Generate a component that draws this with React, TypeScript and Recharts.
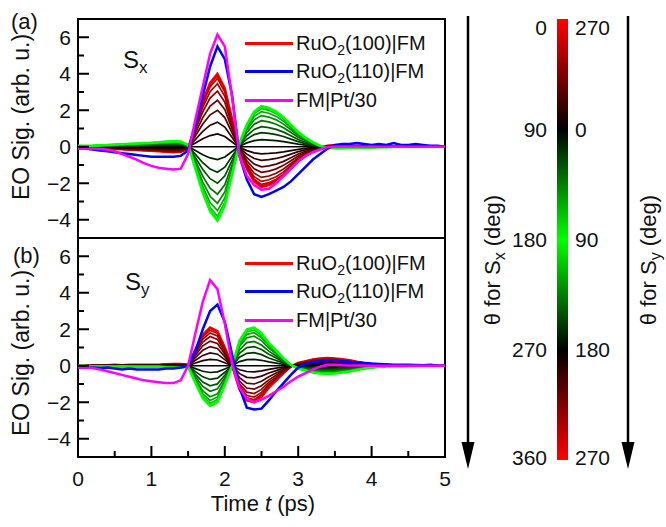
import { LineChart, Line, XAxis, YAxis, Legend, BarChart, Bar, ReferenceArea } from "recharts";

// Time axis (ps) shared by both panels
const TIME = [
  0, 0.1, 0.2, 0.3, 0.4, 0.5, 0.6, 0.7, 0.8, 0.9, 1, 1.1, 1.2, 1.3, 1.4, 1.5, 1.6, 1.7, 1.8, 1.9, 2, 2.1, 2.2, 2.3,
  2.4, 2.5, 2.6, 2.7, 2.8, 2.9, 3, 3.1, 3.2, 3.3, 3.4, 3.5, 3.6, 3.7, 3.8, 3.9, 4, 4.1, 4.2, 4.3, 4.4, 4.5, 4.6, 4.7,
  4.8, 4.9, 5,
];

// theta of the RuO2(100)|FM family, 0..180 (theta and 360-theta overlap)
const ANGLES = [0, 10, 20, 30, 40, 50, 60, 70, 80, 90, 100, 110, 120, 130, 140, 150, 160, 170, 180];

// peak height of each family trace at the main lobe
const SX_PEAKS = [4.0, 3.9, 3.75, 3.45, 3.05, 2.55, 2.0, 1.35, 0.7, 0, -0.7, -1.4, -2.0, -2.6, -3.1, -3.5, -3.8, -3.95, -4.05];
const SY_PEAKS = [2.1, 2.05, 1.95, 1.8, 1.6, 1.35, 1.05, 0.7, 0.35, 0, -0.37, -0.75, -1.1, -1.4, -1.7, -1.9, -2.05, -2.15, -2.2];

// (a) Sx traces
const SX_RED = [
  -0.05, -0.05, -0.06, -0.08, -0.1, -0.12, -0.14, -0.16, -0.18, -0.2, -0.22, -0.25, -0.28, -0.3, -0.28, -0.1, 1.2, 2.5,
  3.5, 4.0, 3.2, 1.5, -0.2, -1.2, -1.9, -2.2, -2.1, -1.9, -1.6, -1.2, -0.8, -0.5, -0.25, -0.05, 0.05, 0.08, 0.08, 0.06,
  0.05, 0.05, 0.04, 0.03, 0.03, 0.02, 0.02, 0.02, 0.01, 0.01, 0.01, 0, 0,
];
const SX_BLUE = [
  -0.1, -0.1, -0.15, -0.2, -0.25, -0.3, -0.35, -0.4, -0.45, -0.5, -0.55, -0.55, -0.55, -0.55, -0.5, -0.2, 1.2, 2.8, 4.4,
  5.5, 4.8, 2.8, -0.5, -1.8, -2.6, -2.75, -2.6, -2.4, -2.2, -1.9, -1.5, -1.1, -0.7, -0.4, -0.1, 0.1, 0.15, 0.15, 0.2,
  0.15, 0.1, 0.15, 0.1, 0.2, 0.1, 0.1, 0.15, 0.1, 0.05, 0.05, 0,
];
const SX_MAG = [
  -0.1, -0.1, -0.1, -0.12, -0.15, -0.25, -0.4, -0.55, -0.7, -0.9, -1.05, -1.15, -1.2, -1.25, -1.2, -0.4, 1.5, 3.3, 5.1,
  6.15, 5.5, 2.7, -0.5, -1.6, -2.1, -2.35, -2.3, -2.0, -1.6, -1.2, -0.8, -0.5, -0.3, -0.15, -0.02, 0, 0.02, 0.02, 0.02,
  0, 0.02, 0, 0, 0, 0.02, 0, 0, 0, 0, 0, 0,
];

// (b) Sy traces
const SY_RED = [
  0, 0, 0.02, 0.02, 0.03, 0.05, 0.03, 0.05, 0.05, 0.05, 0.05, 0.05, 0.08, 0.1, 0.1, 0.05, 0.9, 1.7, 2.1, 1.9, 1.0, 0,
  -1.3, -1.9, -2.0, -1.7, -1.2, -0.8, -0.4, -0.05, 0.15, 0.25, 0.35, 0.4, 0.42, 0.4, 0.35, 0.3, 0.22, 0.15, 0.1, 0.06,
  0.03, 0.02, 0.02, 0.01, 0.01, 0, 0, 0, 0,
];
const SY_BLUE = [
  -0.1, -0.1, -0.1, -0.12, -0.1, -0.15, -0.2, -0.15, -0.2, -0.2, -0.2, -0.2, -0.15, -0.15, -0.1, 0, 0.8, 2.0, 3.0, 3.35,
  2.4, 0.6, -1.2, -2.3, -2.4, -2.35, -1.9, -1.4, -0.95, -0.5, -0.1, 0.1, 0.2, 0.25, 0.28, 0.28, 0.25, 0.22, 0.18, 0.15,
  0.12, 0.1, 0.08, 0.06, 0.05, 0.05, 0.04, 0.03, 0.05, 0.02, 0,
];
const SY_MAG = [
  -0.1, -0.1, -0.12, -0.2, -0.3, -0.4, -0.5, -0.6, -0.7, -0.8, -0.85, -0.9, -0.95, -0.95, -0.8, 0, 1.8, 3.5, 4.7, 4.2,
  2.3, 0.1, -1.2, -1.8, -2.0, -1.85, -1.65, -1.4, -1.15, -0.85, -0.6, -0.4, -0.2, -0.05, 0.05, 0.05, 0.03, 0.02, 0.02,
  0.01, 0, 0, 0, 0, 0, 0, 0, 0, 0, 0, 0,
];

const X_TICKS = [0, 0.5, 1, 1.5, 2, 2.5, 3, 3.5, 4, 4.5, 5];
const Y_TICKS = [-4, -3, -2, -1, 0, 1, 2, 3, 4, 5, 6];
const THETA_TICKS = [0, 90, 180, 270, 360];
const THETA_SX_LABELS = ["0", "90", "180", "270", "360"];
const THETA_SY_LABELS = ["270", "0", "90", "180", "270"];

const LEGEND = [
  { main: "RuO", sub: "2", rest: "(100)|FM", color: "#ff0000" },
  { main: "RuO", sub: "2", rest: "(110)|FM", color: "#0000ff" },
  { main: "FM|Pt/30", sub: "", rest: "", color: "#ff00ff" },
];

const FONT = '"Liberation Sans", Arial, sans-serif';
const INK = "#111";

function angleColor(a: number) {
  if (a <= 90) return `rgb(${Math.round(255 * (1 - a / 90))},0,0)`;
  return `rgb(0,${Math.round(255 * ((a - 90) / 90))},0)`;
}

function buildRows(red: number[], peaks: number[], blue: number[], mag: number[]) {
  return TIME.map((t, i) => {
    const row: Record<string, number> = { t, blue: blue[i], mag: mag[i] };
    peaks.forEach((p, k) => {
      row[`f${k}`] = (red[i] * p) / peaks[0];
    });
    return row;
  });
}

const fmtNum = (v: number) => (v < 0 ? `\u2212${-v}` : `${v}`);

// ticks point inward; majors are longer
function BottomTick({ x, y, payload, labels }: any) {
  const major = Number.isInteger(payload.value);
  return (
    <g>
      <line x1={x} y1={y} x2={x} y2={y - (major ? 11 : 6)} stroke="#000" strokeWidth={2} />
      {labels && major && (
        <text x={x} y={y + 29} textAnchor="middle" fontSize={21} fontFamily={FONT} fill={INK}>
          {payload.value}
        </text>
      )}
    </g>
  );
}

function TopTick({ x, y, payload }: any) {
  const major = Number.isInteger(payload.value);
  return <line x1={x} y1={y} x2={x} y2={y + (major ? 11 : 6)} stroke="#000" strokeWidth={2} />;
}

function LeftTick({ x, y, payload }: any) {
  const major = payload.value % 2 === 0;
  return (
    <g>
      <line x1={x} y1={y} x2={x + (major ? 11 : 6)} y2={y} stroke="#000" strokeWidth={2} />
      {major && (
        <text x={x - 7} y={y} dy="0.36em" textAnchor="end" fontSize={21} fontFamily={FONT} fill={INK}>
          {fmtNum(payload.value)}
        </text>
      )}
    </g>
  );
}

function RightTick({ x, y, payload }: any) {
  const major = payload.value % 2 === 0;
  return <line x1={x} y1={y} x2={x - (major ? 11 : 6)} y2={y} stroke="#000" strokeWidth={2} />;
}

// colour bar labels: end labels sit a little inside the bar ends
function ThetaTick({ x, y, index, labels, anchor }: any) {
  const shift = index === 0 ? 8 : index === THETA_TICKS.length - 1 ? -3 : 0;
  return (
    <text x={x} y={y + shift} dy="0.36em" textAnchor={anchor} fontSize={21} fontFamily={FONT} fill={INK}>
      {labels[index]}
    </text>
  );
}

function LegendBox() {
  return (
    <div style={{ fontFamily: FONT, fontSize: 20, color: INK }}>
      {LEGEND.map((item) => (
        <div key={item.main + item.rest} style={{ display: "flex", alignItems: "center", height: 28.5 }}>
          <span style={{ display: "inline-block", width: 48, height: 3, background: item.color, marginRight: 3 }} />
          <span style={{ whiteSpace: "nowrap" }}>
            {item.main}
            {item.sub && <span style={{ fontSize: 14, position: "relative", top: 5 }}>{item.sub}</span>}
            {item.rest}
          </span>
        </div>
      ))}
    </div>
  );
}

function Panel({ rows, height, marginTop, xHeight, legendTop, labels }: any) {
  return (
    <LineChart width={460} height={height} data={rows} margin={{ top: marginTop, right: 15, bottom: 0, left: 0 }}>
      <XAxis
        xAxisId="b"
        dataKey="t"
        type="number"
        domain={[0, 5]}
        allowDataOverflow
        ticks={X_TICKS}
        interval={0}
        height={xHeight}
        tickSize={0}
        tickMargin={0}
        tickLine={false}
        axisLine={false}
        tick={(p: any) => <BottomTick {...p} labels={labels} />}
      />
      <XAxis
        xAxisId="t"
        orientation="top"
        type="number"
        domain={[0, 5]}
        allowDataOverflow
        ticks={X_TICKS}
        interval={0}
        height={0}
        tickSize={0}
        tickMargin={0}
        tickLine={false}
        axisLine={false}
        tick={(p: any) => <TopTick {...p} />}
      />
      <YAxis
        yAxisId="l"
        type="number"
        domain={[-5, 7]}
        allowDataOverflow
        ticks={Y_TICKS}
        interval={0}
        width={78}
        tickSize={0}
        tickMargin={0}
        tickLine={false}
        axisLine={false}
        tick={(p: any) => <LeftTick {...p} />}
      />
      <YAxis
        yAxisId="r"
        orientation="right"
        type="number"
        domain={[-5, 7]}
        allowDataOverflow
        ticks={Y_TICKS}
        interval={0}
        width={0}
        tickSize={0}
        tickMargin={0}
        tickLine={false}
        axisLine={false}
        tick={(p: any) => <RightTick {...p} />}
      />
      <Legend
        layout="vertical"
        align="center"
        verticalAlign="middle"
        wrapperStyle={{ top: legendTop, left: 245, width: 200 }}
        content={() => <LegendBox />}
      />
      {ANGLES.map((a, k) => (
        <Line
          key={a}
          xAxisId="b"
          yAxisId="l"
          dataKey={`f${k}`}
          type="linear"
          stroke={angleColor(a)}
          strokeWidth={k === 0 || k === ANGLES.length - 1 ? 2.5 : 1.7}
          dot={false}
          activeDot={false}
          legendType="none"
          isAnimationActive={false}
        />
      ))}
      <Line xAxisId="b" yAxisId="l" dataKey="blue" type="linear" stroke="#0000ff" strokeWidth={2.5} dot={false} activeDot={false} legendType="none" isAnimationActive={false} />
      <Line xAxisId="b" yAxisId="l" dataKey="mag" type="linear" stroke="#ff00ff" strokeWidth={2.5} dot={false} activeDot={false} legendType="none" isAnimationActive={false} />
      {/* plot frame */}
      <ReferenceArea
        xAxisId="b"
        yAxisId="l"
        x1={0}
        x2={5}
        y1={-5}
        y2={7}
        fill="none"
        fillOpacity={0}
        stroke="#000"
        strokeWidth={2}
        strokeOpacity={1}
        ifOverflow="visible"
      />
    </LineChart>
  );
}

function ColorBar() {
  return (
    <BarChart width={118} height={527} data={[{ k: "theta", v: [0, 360] }]} barCategoryGap={0} margin={{ top: 19, right: 0, bottom: 67, left: 0 }}>
      <defs>
        <linearGradient id="thetaGrad" x1="0" y1="0" x2="0" y2="1">
          <stop offset="0" stopColor="#ff0000" />
          <stop offset="0.25" stopColor="#000000" />
          <stop offset="0.5" stopColor="#00ff00" />
          <stop offset="0.75" stopColor="#000000" />
          <stop offset="1" stopColor="#ff0000" />
        </linearGradient>
      </defs>
      <XAxis dataKey="k" hide />
      <YAxis
        yAxisId="l"
        type="number"
        domain={[0, 360]}
        allowDataOverflow
        reversed
        ticks={THETA_TICKS}
        interval={0}
        width={57}
        tickLine={false}
        axisLine={false}
        tickSize={0}
        tickMargin={10}
        tick={(p: any) => <ThetaTick {...p} labels={THETA_SX_LABELS} anchor="end" />}
      />
      <YAxis
        yAxisId="r"
        orientation="right"
        type="number"
        domain={[0, 360]}
        allowDataOverflow
        reversed
        ticks={THETA_TICKS}
        interval={0}
        width={50}
        tickLine={false}
        axisLine={false}
        tickSize={0}
        tickMargin={7}
        tick={(p: any) => <ThetaTick {...p} labels={THETA_SY_LABELS} anchor="start" />}
      />
      <Bar yAxisId="l" dataKey="v" fill="url(#thetaGrad)" isAnimationActive={false} />
    </BarChart>
  );
}

function Arrow({ x }: { x: number }) {
  return (
    <g>
      <line x1={x} y1={16} x2={x} y2={446} stroke="#000" strokeWidth={2.5} />
      <polygon points={`${x - 6.5},${442} ${x + 6.5},${442} ${x},${469}`} fill="#000" />
    </g>
  );
}

export default function App() {
  const sx = buildRows(SX_RED, SX_PEAKS, SX_BLUE, SX_MAG);
  const sy = buildRows(SY_RED, SY_PEAKS, SY_BLUE, SY_MAG);
  const txt = { fontFamily: FONT, fill: INK } as const;
  return (
    <div style={{ position: "absolute", left: 0, top: 0, width: 666, height: 527, background: "#fff" }}>
      <div style={{ position: "absolute", left: 0, top: 0 }}>
        <Panel rows={sx} height={238} marginTop={19} xHeight={0} legendTop={29} labels={false} />
      </div>
      <div style={{ position: "absolute", left: 0, top: 200 }}>
        <Panel rows={sy} height={327} marginTop={38} xHeight={70} legendTop={49} labels />
      </div>
      <div style={{ position: "absolute", left: 500, top: 0 }}>
        <ColorBar />
      </div>
      <svg width={666} height={527} style={{ position: "absolute", left: 0, top: 0, pointerEvents: "none" }}>
        <text x={11} y={29} fontSize={22} {...txt}>(a)</text>
        <text x={13} y={263} fontSize={22} {...txt}>(b)</text>
        <text x={123} y={68} fontSize={24} {...txt}>
          S<tspan fontSize={17} dy={5}>x</tspan>
        </text>
        <text x={125} y={290} fontSize={24} {...txt}>
          S<tspan fontSize={17} dy={5}>y</tspan>
        </text>
        <text transform="translate(29,117) rotate(-90)" textAnchor="middle" fontSize={23} {...txt}>
          EO Sig. (arb. u.)
        </text>
        <text transform="translate(29,353) rotate(-90)" textAnchor="middle" fontSize={23} {...txt}>
          EO Sig. (arb. u.)
        </text>
        <text x={263} y={511} textAnchor="middle" fontSize={22} {...txt}>
          Time <tspan fontStyle="italic">t</tspan> (ps)
        </text>
        <Arrow x={468} />
        <Arrow x={628} />
        <text transform="translate(500,260) rotate(-90)" textAnchor="middle" fontSize={22} {...txt}>
          θ for S<tspan fontSize={16} dy={5}>x</tspan>
          <tspan dy={-5}> (deg)</tspan>
        </text>
        <text transform="translate(656,260) rotate(-90)" textAnchor="middle" fontSize={22} {...txt}>
          θ for S<tspan fontSize={16} dy={5}>y</tspan>
          <tspan dy={-5}> (deg)</tspan>
        </text>
      </svg>
    </div>
  );
}
